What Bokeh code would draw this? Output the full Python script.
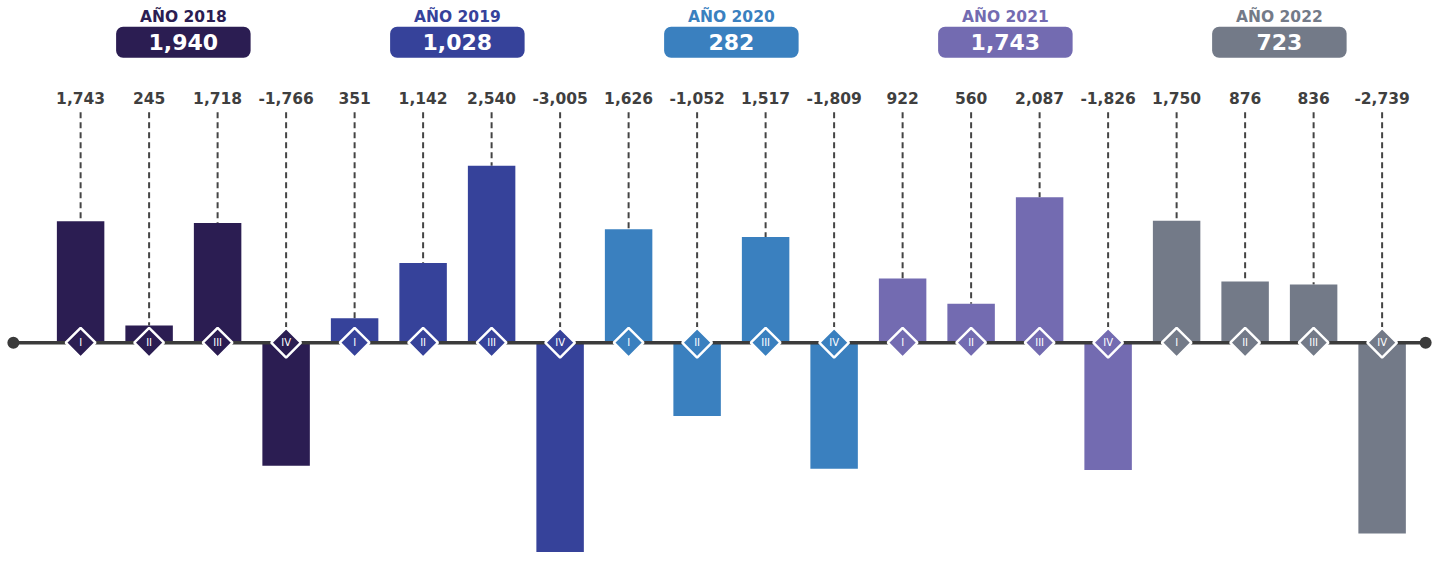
import math
from bokeh.plotting import figure
from bokeh.models import BoxAnnotation, ColumnDataSource
from bokeh.core.properties import value
from bokeh.embed import file_html
from bokeh.resources import INLINE

# ---- data ----
years = ["2018", "2019", "2020", "2021", "2022"]
year_labels = ["AÑO 2018", "AÑO 2019", "AÑO 2020", "AÑO 2021", "AÑO 2022"]
year_totals = [1940, 1028, 282, 1743, 723]
quarters = ["I", "II", "III", "IV"]
values_2018 = [1743, 245, 1718, -1766]
values_2019 = [351, 1142, 2540, -3005]
values_2020 = [1626, -1052, 1517, -1809]
values_2021 = [922, 560, 2087, -1826]
values_2022 = [1750, 876, 836, -2739]
year_colors = ["#2b1d52", "#36429a", "#3a80bf", "#736bb1", "#737a88"]

all_values = [values_2018, values_2019, values_2020, values_2021, values_2022]

# ---- layout constants (reference-picture pixels, 1453x573) ----
W, H = 1437, 557
REF_W, REF_H = 1453, 573
S = 1316 / 19.0          # ref px per bar slot
K = 0.0717               # ref px per unit value
BASE_Y = 352
SX = W / REF_W
SY = H / REF_H

def ix(px):
    return (px - 81) / S

def iy(py):
    return (BASE_Y - py) / K

FONT = value("DejaVu Sans")

p = figure(width=W, height=H, x_range=(ix(0), ix(REF_W)), y_range=(iy(REF_H), iy(0)),
           output_backend="svg", toolbar_location=None, min_border=0,
           x_axis_location=None, y_axis_location=None)
p.grid.visible = False
p.outline_line_color = None
p.background_fill_color = "white"
p.border_fill_color = "white"

xs, vals, cols, qlab, vlab, tops = [], [], [], [], [], []
for yi, vs in enumerate(all_values):
    for qi, v in enumerate(vs):
        xs.append(yi * 4 + qi)
        vals.append(v)
        cols.append(year_colors[yi])
        qlab.append(quarters[qi])
        vlab.append(f"{v:,}")
        tops.append(max(v, 0))

src = ColumnDataSource(dict(x=xs, v=vals, color=cols, q=qlab, vl=vlab, top=tops,
                            ytop=[iy(115)] * len(xs), ylab=[iy(100)] * len(xs),
                            zero=[0] * len(xs)))

# dashed leader lines
p.segment(x0="x", y0="ytop", x1="x", y1="top", source=src, line_color="#444444",
          line_width=2, line_dash="6 4")

# bars
p.vbar(x="x", top="v", bottom=0, width=48 / S, fill_color="color", line_color=None, source=src)

# baseline
p.segment(x0=[ix(13)], y0=[0], x1=[ix(1441)], y1=[0], line_color="#3b3b3b", line_width=3.5)
p.scatter(x=[ix(13), ix(1441)], y=[0, 0], size=12, marker="circle",
          fill_color="#3b3b3b", line_color=None)

# diamonds
p.scatter(x="x", y="zero", source=src, marker="square", angle=math.pi / 4, size=21,
          fill_color="color", line_color="white", line_width=2.5)
p.text(x="x", y="zero", text="q", source=src, text_color="white", text_font=FONT,
       text_font_size="10px", text_align="center", text_baseline="middle")

# value labels
p.text(x="x", y="ylab", text="vl", source=src, text_color="#3f3f3f", text_font=FONT,
       text_font_style="bold", text_font_size="15.5px", text_align="center",
       text_baseline="middle")

# year headers & totals
centers = [yi * 4 + 1.5 for yi in range(len(years))]
for c, col in zip(centers, year_colors):
    p.add_layout(BoxAnnotation(left=c - 68 / S, right=c + 68 / S, top=iy(27), bottom=iy(59),
                               fill_color=col, fill_alpha=1, line_color=None,
                               border_radius=7, level="underlay"))

hsrc = ColumnDataSource(dict(x=centers, lab=year_labels, tot=[f"{t:,}" for t in year_totals],
                             color=year_colors, yh=[iy(17)] * 5, yt=[iy(43)] * 5))
p.text(x="x", y="yh", text="lab", source=hsrc, text_color="color", text_font=FONT,
       text_font_style="bold", text_font_size="15.5px", text_align="center",
       text_baseline="middle")
p.text(x="x", y="yt", text="tot", source=hsrc, text_color="white", text_font=FONT,
       text_font_style="bold", text_font_size="22px", text_align="center",
       text_baseline="middle")

open("out.html", "w").write(file_html(p, INLINE))
